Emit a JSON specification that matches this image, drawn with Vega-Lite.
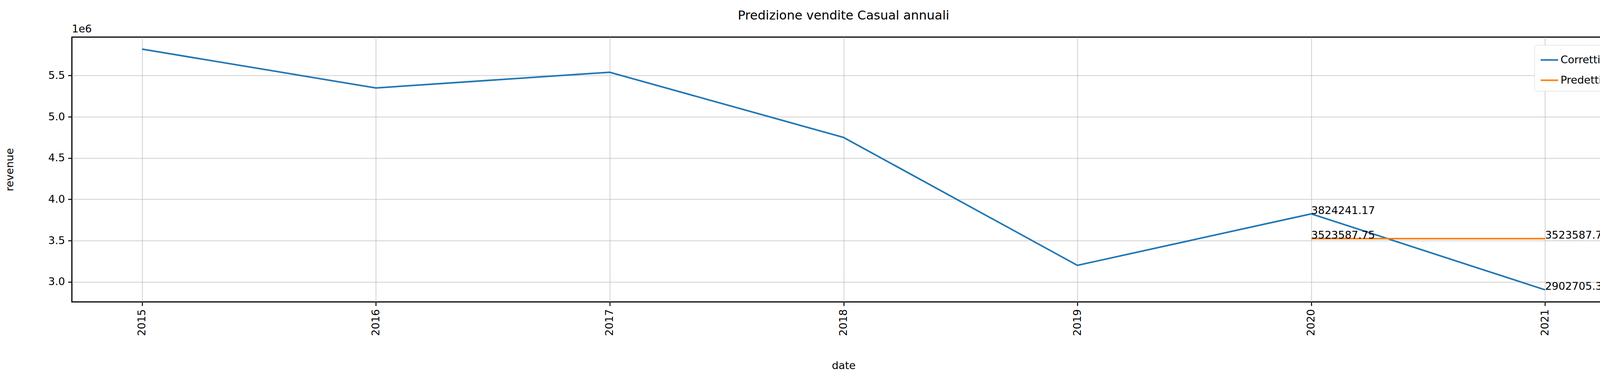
{
  "$schema": "https://vega.github.io/schema/vega-lite/v6.json",
  "width": 3951,
  "height": 678,
  "autosize": {"type": "none"},
  "padding": {"left": 184, "top": 95, "right": 103, "bottom": 223},
  "background": "white",
  "config": {
    "font": "DejaVu Sans",
    "view": {"stroke": "black", "strokeWidth": 3},
    "axis": {
      "labelFontSize": 27, "titleFontSize": 27, "labelColor": "black", "titleColor": "black",
      "titleFontWeight": "normal", "domain": false, "tickColor": "black", "tickSize": 10, "tickWidth": 2.5,
      "gridColor": "#b0b0b0", "gridOpacity": 0.6, "gridWidth": 2, "labelPadding": 8
    },
    "title": {"fontSize": 32, "fontWeight": "normal", "color": "black"}
  },
  "title": {"text": "Predizione vendite Casual annuali", "offset": 4},
  "datasets": {
    "lines": [
      {"date": 2015, "revenue": 5820000, "serie": "Corretti"},
      {"date": 2016, "revenue": 5350000, "serie": "Corretti"},
      {"date": 2017, "revenue": 5540000, "serie": "Corretti"},
      {"date": 2018, "revenue": 4750000, "serie": "Corretti"},
      {"date": 2019, "revenue": 3200000, "serie": "Corretti"},
      {"date": 2020, "revenue": 3824241.17, "serie": "Corretti"},
      {"date": 2021, "revenue": 2902705.33, "serie": "Corretti"},
      {"date": 2020, "revenue": 3523587.75, "serie": "Predetti"},
      {"date": 2021, "revenue": 3523587.75, "serie": "Predetti"}
    ],
    "labels": [
      {"date": 2020, "revenue": 3824241.17, "label": "3824241.17"},
      {"date": 2020, "revenue": 3523587.75, "label": "3523587.75"},
      {"date": 2021, "revenue": 3523587.75, "label": "3523587.75"},
      {"date": 2021, "revenue": 2902705.33, "label": "2902705.33"}
    ],
    "corner": [{"date": 2014.7, "revenue": 5966000, "label": "1e6"}]
  },
  "layer": [
    {
      "data": {"name": "lines"},
      "mark": {"type": "line", "strokeWidth": 4, "clip": true},
      "encoding": {
        "x": {
          "field": "date", "type": "quantitative",
          "scale": {"domain": [2014.7, 2021.3], "nice": false, "zero": false},
          "axis": {"values": [2015, 2016, 2017, 2018, 2019, 2020, 2021], "format": "d", "labelAngle": -90, "title": "date", "titleY": 150}
        },
        "y": {
          "field": "revenue", "type": "quantitative",
          "scale": {"domain": [2757000, 5966000], "nice": false, "zero": false},
          "axis": {"values": [3000000, 3500000, 4000000, 4500000, 5000000, 5500000], "labelExpr": "format(datum.value/1e6, '.1f')", "title": "revenue", "titleX": -145}
        },
        "color": {
          "field": "serie", "type": "nominal",
          "scale": {"domain": ["Corretti", "Predetti"], "range": ["#1f77b4", "#ff7f0e"]},
          "legend": {
            "title": null, "orient": "top-right", "offset": 20, "symbolType": "stroke", "symbolStrokeWidth": 4,
            "symbolSize": 2000, "labelFontSize": 27, "labelColor": "black", "rowPadding": 14,
            "strokeColor": "#d0d0d0", "fillColor": "white", "padding": 14, "cornerRadius": 6
          }
        }
      }
    },
    {
      "data": {"name": "labels"},
      "mark": {"type": "text", "align": "left", "baseline": "alphabetic", "fontSize": 27, "color": "black"},
      "encoding": {
        "x": {"field": "date", "type": "quantitative"},
        "y": {"field": "revenue", "type": "quantitative"},
        "text": {"field": "label"}
      }
    },
    {
      "data": {"name": "corner"},
      "mark": {"type": "text", "align": "left", "baseline": "bottom", "fontSize": 27, "color": "black", "dy": -6},
      "encoding": {
        "x": {"field": "date", "type": "quantitative"},
        "y": {"field": "revenue", "type": "quantitative"},
        "text": {"field": "label"}
      }
    }
  ]
}
